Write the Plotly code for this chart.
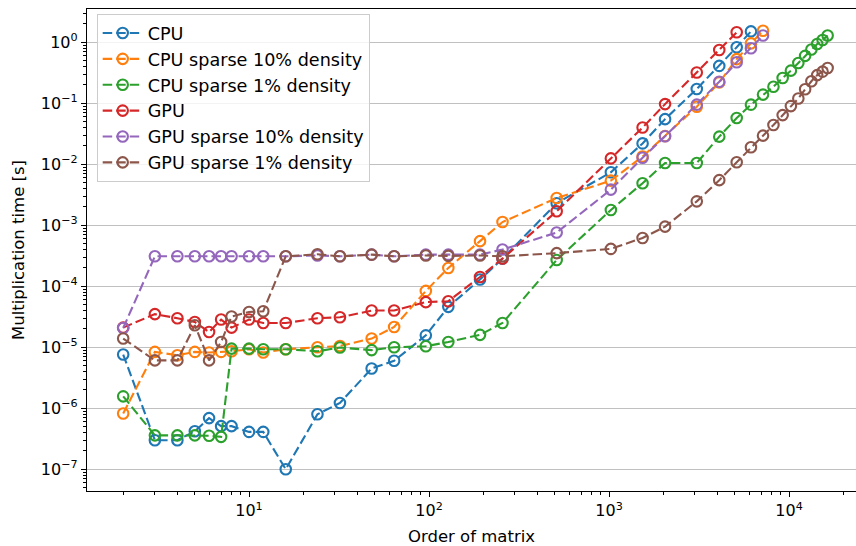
import plotly.graph_objects as go

# ---- data ----
x_base = [2, 3, 4, 5, 6, 7, 8, 10, 12, 16, 24, 32, 48, 64, 96, 128, 192, 256,
          512, 1024, 1536, 2048, 3072, 4096, 5120]
x_ext = [6144, 7168, 8192, 9216, 10240, 11264, 12288, 13312, 14336, 15360, 16384]

x_cpu = x_base + [6144]
y_cpu = [7.6e-6, 3.0e-7, 3.0e-7, 4.2e-7, 6.9e-7, 5.1e-7, 5.1e-7, 4.1e-7, 4.1e-7,
         1.0e-7, 8.0e-7, 1.22e-6, 4.5e-6, 6.0e-6, 1.57e-5, 4.6e-5, 1.29e-4,
         2.84e-4, 2.3e-3, 7.4e-3, 2.2e-2, 5.5e-2, 0.172, 0.41, 0.83, 1.51]

x_cpu10 = x_base + [6144, 7168]
y_cpu10 = [8.2e-7, 8.4e-6, 7.4e-6, 8.4e-6, 8.2e-6, 8.4e-6, 8.6e-6, 9.3e-6, 8.2e-6,
           9.3e-6, 1.0e-5, 1.05e-5, 1.39e-5, 2.15e-5, 8.4e-5, 2.0e-4, 5.5e-4,
           1.13e-3, 2.8e-3, 5.4e-3, 1.34e-2, 2.9e-2, 8.8e-2, 0.22, 0.53, 0.96, 1.55]

x_cpu1 = x_base + x_ext
y_cpu1 = [1.57e-6, 3.6e-7, 3.6e-7, 3.6e-7, 3.55e-7, 3.4e-7, 9.5e-6, 9.5e-6, 9.3e-6,
          9.3e-6, 8.6e-6, 9.9e-6, 9.0e-6, 1.0e-5, 1.04e-5, 1.22e-5, 1.6e-5, 2.5e-5,
          2.7e-4, 1.78e-3, 4.9e-3, 1.05e-2, 1.05e-2, 2.84e-2, 5.75e-2,
          9.5e-2, 0.139, 0.187, 0.26, 0.343, 0.458, 0.60, 0.76, 0.94, 1.09, 1.29]

x_gpu = x_base
y_gpu = [2.1e-5, 3.5e-5, 3.0e-5, 2.6e-5, 1.78e-5, 2.85e-5, 2.1e-5, 2.85e-5, 2.5e-5,
         2.5e-5, 3.0e-5, 3.1e-5, 4.0e-5, 4.0e-5, 5.5e-5, 5.7e-5, 1.42e-4, 2.85e-4,
         1.7e-3, 1.25e-2, 4.0e-2, 9.7e-2, 0.32, 0.75, 1.46]

x_gpu10 = x_base + [6144, 7168]
y_gpu10 = [2.07e-5, 3.1e-4, 3.1e-4, 3.1e-4, 3.1e-4, 3.1e-4, 3.1e-4, 3.1e-4, 3.1e-4,
           3.1e-4, 3.2e-4, 3.1e-4, 3.3e-4, 3.1e-4, 3.3e-4, 3.3e-4, 3.3e-4, 4.0e-4,
           7.6e-4, 3.85e-3, 1.28e-2, 2.88e-2, 9.5e-2, 0.226, 0.47, 0.80, 1.29]

x_gpu1 = x_base + x_ext
y_gpu1 = [1.39e-5, 6.1e-6, 6.1e-6, 2.3e-5, 6.1e-6, 1.22e-5, 3.2e-5, 3.8e-5, 3.9e-5,
          3.1e-4, 3.35e-4, 3.1e-4, 3.3e-4, 3.1e-4, 3.2e-4, 3.15e-4, 3.2e-4, 3.1e-4,
          3.5e-4, 4.1e-4, 6.2e-4, 9.5e-4, 2.47e-3, 5.5e-3, 1.08e-2,
          1.9e-2, 2.95e-2, 4.4e-2, 6.4e-2, 9.0e-2, 0.12, 0.17, 0.23, 0.29, 0.33, 0.38]

names = ["CPU", "CPU sparse 10% density", "CPU sparse 1% density",
         "GPU", "GPU sparse 10% density", "GPU sparse 1% density"]
colors = ["#1f77b4", "#ff7f0e", "#2ca02c", "#d62728", "#9467bd", "#8c564b"]
series = [(x_cpu, y_cpu), (x_cpu10, y_cpu10), (x_cpu1, y_cpu1),
          (x_gpu, y_gpu), (x_gpu10, y_gpu10), (x_gpu1, y_gpu1)]

y_tickvals = [1e-7, 1e-6, 1e-5, 1e-4, 1e-3, 1e-2, 1e-1, 1e0]
y_ticktext = ["10<sup>−7</sup>", "10<sup>−6</sup>", "10<sup>−5</sup>", "10<sup>−4</sup>",
              "10<sup>−3</sup>", "10<sup>−2</sup>", "10<sup>−1</sup>", "10<sup>0</sup>"]
x_tickvals = [10, 100, 1000, 10000]
x_ticktext = ["10<sup>1</sup>", "10<sup>2</sup>", "10<sup>3</sup>", "10<sup>4</sup>"]

# minor tick positions (2..9 times each decade)
x_minor = [m * 10 ** e for e in range(0, 5) for m in range(2, 10)]
y_minor = [m * 10.0 ** e for e in range(-8, 1) for m in range(2, 10)]

fig = go.Figure()
for (xs, ys), n, c in zip(series, names, colors):
    fig.add_trace(go.Scatter(
        x=xs, y=ys, name=n, mode="lines+markers",
        line=dict(color=c, width=2.1, dash="9.5px,4px"),
        marker=dict(symbol="circle-open", size=10.5, color=c, line=dict(width=2.1, color=c)),
    ))

font = "DejaVu Sans, sans-serif"
fig.update_layout(
    width=856, height=546,
    margin=dict(l=87, r=0, t=9, b=55),
    paper_bgcolor="white", plot_bgcolor="white",
    font=dict(family=font, size=16, color="#000"),
    showlegend=True,
    legend=dict(x=0.0126, y=0.9896, xanchor="left", yanchor="top",
                bgcolor="rgba(255,255,255,0.8)", bordercolor="#cccccc", borderwidth=1,
                itemwidth=40,
                font=dict(size=17.6, family=font)),
    xaxis=dict(type="log", range=[0.1, 4.372],
               tickvals=x_tickvals, ticktext=x_ticktext,
               ticks="outside", ticklen=5, tickwidth=1, tickcolor="#000",
               showline=True, linecolor="#000", linewidth=1.3, mirror=True,
               showgrid=False, zeroline=False,
               minor=dict(tickvals=x_minor, ticks="outside", ticklen=3, tickwidth=1,
                          tickcolor="#000", showgrid=False),
               title=dict(text="Order of matrix", font=dict(size=16.5), standoff=12),
               tickfont=dict(size=16)),
    yaxis=dict(type="log", range=[-7.356, 0.546],
               tickvals=y_tickvals, ticktext=y_ticktext,
               ticks="outside", ticklen=5, tickwidth=1, tickcolor="#000",
               showline=True, linecolor="#000", linewidth=1.3, mirror=False,
               showgrid=True, gridcolor="#c0c0c0", gridwidth=1.2, zeroline=False,
               minor=dict(tickvals=y_minor, ticks="outside", ticklen=3, tickwidth=1,
                          tickcolor="#000", showgrid=False),
               title=dict(text="Multiplication time [s]", font=dict(size=16.5), standoff=12),
               tickfont=dict(size=16)),
)

fig.write_html("out.html")
